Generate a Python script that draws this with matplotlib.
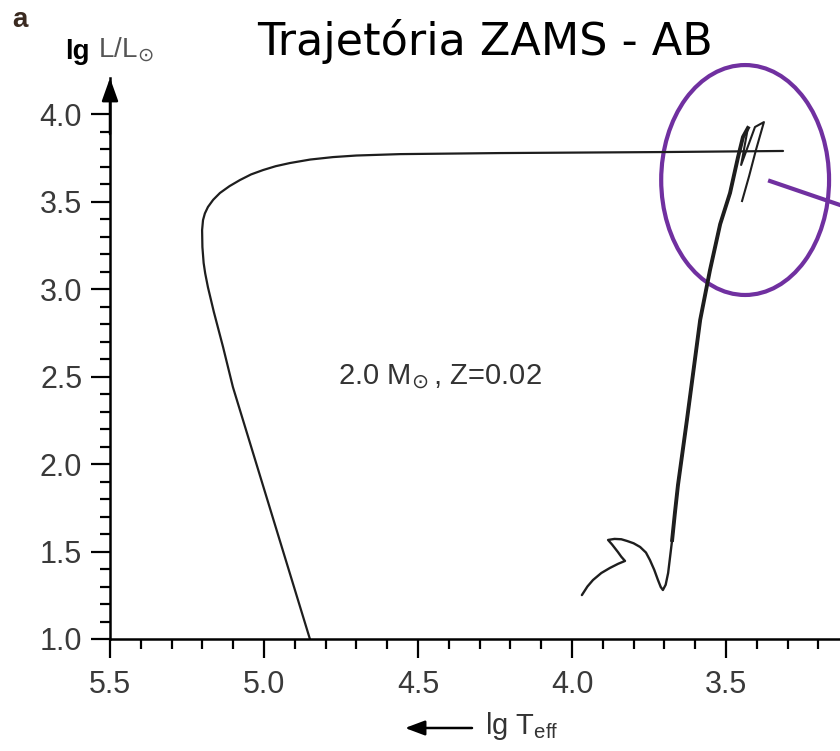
import numpy as np
import matplotlib.pyplot as plt
from matplotlib.patches import Ellipse

plt.rcParams['font.family'] = ['Liberation Sans', 'DejaVu Sans']
plt.rcParams['mathtext.fontset'] = 'dejavusans'

# Evolutionary track, 2.0 Msun Z=0.02 (lg Teff, lg L/Lsun)
# ZAMS -> main sequence hook -> subgiant -> red giant branch
ms_rgb_lgT = [3.968, 3.950, 3.932, 3.905, 3.877, 3.850, 3.828, 3.840, 3.851, 3.870,
              3.883, 3.862, 3.840, 3.821, 3.800, 3.779, 3.760, 3.747, 3.733, 3.721,
              3.712, 3.705, 3.696, 3.688, 3.675, 3.666, 3.656, 3.627, 3.584, 3.552,
              3.519, 3.487, 3.461, 3.445, 3.429]
ms_rgb_lgL = [1.251, 1.300, 1.337, 1.377, 1.406, 1.430, 1.446, 1.470, 1.497, 1.540,
              1.566, 1.572, 1.570, 1.560, 1.547, 1.526, 1.494, 1.451, 1.395, 1.337,
              1.297, 1.280, 1.310, 1.377, 1.566, 1.720, 1.880, 2.251, 2.823, 3.109,
              3.371, 3.549, 3.754, 3.869, 3.920]

# AGB loops / thermal pulses
agb_lgT = [3.429, 3.451, 3.406, 3.377, 3.403, 3.425, 3.448]
agb_lgL = [3.920, 3.709, 3.926, 3.954, 3.794, 3.646, 3.503]

# post-AGB crossing and white dwarf cooling
post_lgT = [3.315, 3.692, 4.234, 4.558, 4.700, 4.776, 4.850, 4.916, 4.962, 5.003,
            5.042, 5.078, 5.112, 5.143, 5.165, 5.182, 5.192, 5.198, 5.201, 5.200,
            5.196, 5.191, 5.182, 5.163, 5.133, 5.101, 4.851]
post_lgL = [3.789, 3.783, 3.777, 3.771, 3.763, 3.754, 3.740, 3.720, 3.702, 3.680,
            3.655, 3.623, 3.588, 3.549, 3.510, 3.469, 3.432, 3.394, 3.337, 3.240,
            3.149, 3.090, 3.010, 2.870, 2.669, 2.440, 1.000]

x_major = [5.5, 5.0, 4.5, 4.0, 3.5]
y_major = [1.0, 1.5, 2.0, 2.5, 3.0, 3.5, 4.0]

fig = plt.figure(figsize=(8.4, 7.51), dpi=100)
ax = fig.add_axes([110 / 840, 112 / 751, 730 / 840, 561 / 751])

line_col = '#1e1e1e'
ax.plot(post_lgT, post_lgL, color=line_col, lw=1.6, solid_capstyle='round',
        solid_joinstyle='round')
ax.plot(ms_rgb_lgT, ms_rgb_lgL, color=line_col, lw=1.7, solid_capstyle='round',
        solid_joinstyle='round')
ax.plot(ms_rgb_lgT[24:], ms_rgb_lgL[24:], color=line_col, lw=2.8,
        solid_joinstyle='round')
ax.plot(agb_lgT, agb_lgL, color=line_col, lw=1.5, solid_joinstyle='round')

ax.set_xlim(5.5, 3.13)
ax.set_ylim(1.0, 4.206)

for s in ['top', 'right']:
    ax.spines[s].set_visible(False)
for s in ['left', 'bottom']:
    ax.spines[s].set_linewidth(1.8)

ax.set_xticks(x_major)
ax.set_xticks(np.arange(3.2, 5.5, 0.1), minor=True)
ax.set_yticks(y_major)
ax.set_yticks(np.arange(1.1, 4.05, 0.1), minor=True)
ax.set_xticklabels([f'{v:.1f}' for v in x_major])
ax.set_yticklabels([f'{v:.1f}' for v in y_major])
ax.tick_params(which='major', length=14, width=1.6, labelsize=22, labelcolor='#3a3a3a')
ax.tick_params(which='minor', length=7, width=1.6)
ax.tick_params(axis='x', which='major', pad=8)
ax.tick_params(axis='y', which='major', pad=6)

# arrow on the y axis
ax.annotate('', xy=(0, 1.0), xytext=(0, 0.9), xycoords='axes fraction',
            arrowprops=dict(arrowstyle='-|>,head_length=1.4,head_width=0.5',
                            color='black', lw=1.8, shrinkA=0, shrinkB=0))

ax.text(4.43, 2.5, r'2.0 M$_{\!\odot}$, Z=0.02', fontsize=21, color='#333333',
        ha='center', va='center')

# highlight around the thermal pulses
ax.add_patch(Ellipse((3.438, 3.623), 0.545, 1.314, fill=False,
                     edgecolor='#7030A0', lw=3, clip_on=False))
ax.plot([3.357, 3.0], [3.617, 3.402], color='#7030A0', lw=3, clip_on=False)

fig.text(485 / 840, 1 - 42 / 751, 'Trajetória ZAMS - AB', fontsize=32,
         family='DejaVu Sans', ha='center', va='center')
fig.text(12 / 840, 1 - 20 / 751, 'a', fontsize=20, fontweight='bold',
         color='#3a2a20', ha='left', va='center')
fig.text(65 / 840, 1 - 52 / 751, 'lg', fontsize=20, fontweight='bold',
         ha='left', va='center')
fig.text(98 / 840, 1 - 50 / 751, r'L/L$_{\!\odot}$', fontsize=20, color='#555555',
         ha='left', va='center')

ax.annotate('', xy=(405, 751 - 728), xytext=(472, 751 - 728),
            xycoords='figure pixels',
            arrowprops=dict(arrowstyle='-|>,head_length=1.2,head_width=0.45',
                            color='black', lw=1.8, shrinkA=0, shrinkB=0))
fig.text(485 / 840, 1 - 726 / 751, r'lg T$_\mathregular{eff}$', fontsize=21,
         color='#333333', ha='left', va='center')

fig.savefig('out.png', dpi=100)
